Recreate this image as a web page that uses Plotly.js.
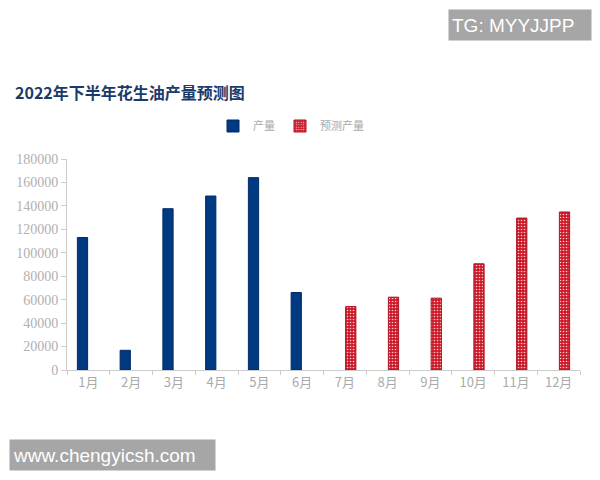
<!DOCTYPE html>
<html>
<head>
<meta charset="utf-8">
<script src="https://cdn.plot.ly/plotly-3.0.1.min.js"></script>
<style>html,body{margin:0;padding:0;background:#fff;}#chart{width:600px;height:480px;}</style>
</head>
<body>
<div id="chart"></div>
<script>
const months = ["1月","2月","3月","4月","5月","6月","7月","8月","9月","10月","11月","12月"];
const production = [113000, 16800, 137600, 148400, 164100, 66100, null, null, null, null, null, null];
const forecast = [null, null, null, null, null, null, 54100, 62100, 61300, 90600, 129600, 134800];
const yTicks = [0,20000,40000,60000,80000,100000,120000,140000,160000,180000];

const traces = [
  {
    type: "bar", name: "产量", x: months, y: production,
    marker: {color: "#003a80", line: {color: "#002a66", width: 1}},
    hoverinfo: "x+y"
  },
  {
    type: "bar", name: "预测产量", x: months, y: forecast,
    marker: {color: "#cc1b2b", line: {color: "#b01020", width: 1},
      pattern: {shape: ".", fgcolor: "#ffc8c8", bgcolor: "#cc1b2b", size: 3, solidity: 0.22}},
    hoverinfo: "x+y"
  }
];

const layout = {
  width: 600, height: 480,
  margin: {l: 67, r: 20, t: 159, b: 110},
  paper_bgcolor: "#ffffff", plot_bgcolor: "#ffffff",
  barmode: "group", bargap: 0.45, bargroupgap: 0.13,
  title: {
    text: "<b>2022年下半年花生油产量预测图</b>",
    font: {family: "Noto Sans CJK SC", size: 16, color: "#1b3a6b"},
    xref: "container", yref: "container", x: 15/600, y: 1 - 93/480,
    xanchor: "left", yanchor: "middle"
  },
  showlegend: true,
  legend: {
    orientation: "h", x: 0.485, xanchor: "center", xref: "container",
    y: 1 - 126/480, yref: "container", yanchor: "middle",
    font: {family: "Noto Sans CJK SC", size: 11, color: "#aaaaaa"},
    itemwidth: 30, traceorder: "normal"
  },
  xaxis: {
    type: "category", showgrid: false, zeroline: false,
    showline: true, linecolor: "#cccccc", linewidth: 1,
    ticks: "outside", ticklen: 4, tickcolor: "#cccccc", tickson: "boundaries",
    tickfont: {family: "Noto Sans CJK SC", size: 13, color: "#aaaaaa"},
    fixedrange: true
  },
  yaxis: {
    range: [0, 180000], tickvals: yTicks, ticktext: yTicks.map(String),
    showgrid: false, zeroline: false,
    showline: true, linecolor: "#cccccc", linewidth: 1,
    ticks: "outside", ticklen: 5, tickcolor: "#cccccc",
    tickfont: {family: "Liberation Serif", size: 14, color: "#b0b0b0"},
    fixedrange: true
  },
  annotations: [
    {
      text: "TG: MYYJJPP", xref: "paper", yref: "paper",
      x: (449 + 142/2 - 67) / 513, y: (480 - 25 - 110) / 211,
      xanchor: "center", yanchor: "middle", showarrow: false, align: "left",
      font: {family: "Liberation Sans", size: 19, color: "#ffffff"},
      bgcolor: "#a6a6a6", width: 136, height: 24, borderpad: 3
    },
    {
      text: "www.chengyicsh.com", xref: "paper", yref: "paper",
      x: (10 + 205/2 - 67) / 513, y: (480 - 455 - 110) / 211,
      xanchor: "center", yanchor: "middle", showarrow: false, align: "left",
      font: {family: "Liberation Sans", size: 19, color: "#ffffff"},
      bgcolor: "#a6a6a6", width: 199, height: 24, borderpad: 3
    }
  ]
};

Plotly.newPlot("chart", traces, layout, {displayModeBar: false, staticPlot: true});
</script>
</body>
</html>
